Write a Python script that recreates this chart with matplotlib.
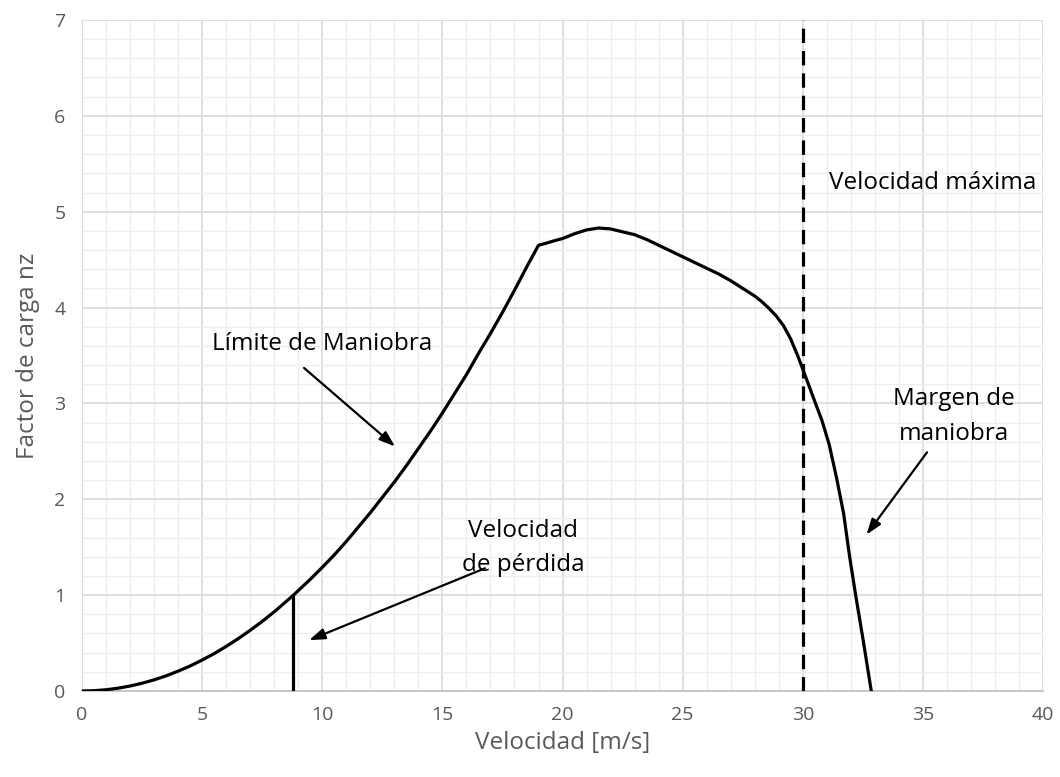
import matplotlib
matplotlib.use("Agg")
import matplotlib.pyplot as plt
from matplotlib.ticker import MultipleLocator

plt.rcParams['font.family'] = ['Open Sans', 'DejaVu Sans']

# Envelope curve (velocity m/s, load factor nz)
vel = [0, 0.5, 1, 1.5, 2, 2.5, 3, 3.5, 4, 4.5, 5, 5.5, 6, 6.5, 7, 7.5, 8, 8.8,
       9.5, 10, 10.5, 11, 11.5, 12, 12.5, 13, 13.5, 14, 14.5, 15, 15.5, 16, 16.5,
       17, 17.5, 18, 18.5, 19,
       19.3, 19.7, 20, 20.5, 21, 21.5, 22, 22.5, 23, 23.5, 24, 24.5, 25, 25.5, 26,
       26.5, 27, 27.5, 28, 28.3, 28.6, 28.9, 29.2, 29.5, 29.8, 30.1, 30.5, 30.8,
       31.1, 31.4, 31.7, 31.95, 32.2, 32.5, 32.85]
nz = [0, 0.003, 0.013, 0.029, 0.052, 0.081, 0.116, 0.158, 0.207, 0.261, 0.323,
      0.39, 0.465, 0.546, 0.633, 0.726, 0.826, 1.0,
      1.165, 1.29, 1.42, 1.56, 1.71, 1.86, 2.02, 2.18, 2.35, 2.53, 2.71, 2.9,
      3.10, 3.30, 3.52, 3.73, 3.95, 4.18, 4.42, 4.65,
      4.67, 4.70, 4.72, 4.77, 4.81, 4.83, 4.82, 4.79, 4.76, 4.71, 4.65, 4.59,
      4.53, 4.47, 4.41, 4.35, 4.28, 4.20, 4.12, 4.06, 3.99, 3.91, 3.81, 3.67,
      3.49, 3.29, 3.02, 2.82, 2.57, 2.23, 1.85, 1.40, 1.00, 0.55, 0]

stall_v = [8.8, 8.8]
stall_n = [0, 1.0]
vmax_v = [30, 30]
vmax_n = [0, 7]

fig = plt.figure(figsize=(10.6, 7.77), dpi=100)
ax = fig.add_axes([0.0774, 0.1107, 0.9066, 0.8636])

ax.plot(vel, nz, color='black', lw=2.3, solid_joinstyle='round', zorder=3)
ax.plot(stall_v, stall_n, color='black', lw=2.3, zorder=3)
ax.plot(vmax_v, vmax_n, color='black', lw=2.3, linestyle=(0, (4.5, 2.5)), zorder=3)

ax.set_xlim(0, 40)
ax.set_ylim(0, 7)
ax.xaxis.set_major_locator(MultipleLocator(5))
ax.xaxis.set_minor_locator(MultipleLocator(1))
ax.yaxis.set_major_locator(MultipleLocator(1))
ax.yaxis.set_minor_locator(MultipleLocator(0.2))
ax.grid(which='major', color='#d9d9d9', lw=1.2, zorder=0)
ax.grid(which='minor', color='#efefef', lw=1.0, zorder=0)
ax.set_axisbelow(True)
for s in ['top', 'right']:
    ax.spines[s].set_visible(False)
ax.spines['left'].set_color('#d9d9d9')
ax.spines['bottom'].set_color('#bfbfbf')
ax.spines['bottom'].set_linewidth(1.2)
ax.tick_params(axis='x', which='both', length=0, labelsize=14, labelcolor='#595959', pad=11)
ax.tick_params(axis='y', which='both', length=0, labelsize=14, labelcolor='#595959', pad=12)

ax.set_xlabel('Velocidad [m/s]', fontsize=17.5, color='#595959', labelpad=5)
ax.set_ylabel('Factor de carga nz', fontsize=17.5, color='#595959', labelpad=10)

txt = dict(fontsize=17.5, color='black')
arrow = dict(arrowstyle='-|>,head_length=0.95,head_width=0.33', color='black', lw=1.6,
             shrinkA=0, shrinkB=0)

ax.text(10.0, 3.62, 'Límite de Maniobra', ha='center', va='center', **txt)
ax.annotate('', xy=(13.03, 2.55), xytext=(9.24, 3.37), arrowprops=arrow)

ax.text(18.35, 1.49, 'Velocidad\nde pérdida', ha='center', va='center', linespacing=1.55, **txt)
ax.annotate('', xy=(9.45, 0.53), xytext=(16.77, 1.28), arrowprops=arrow)

ax.text(31.1, 5.3, 'Velocidad máxima', ha='left', va='center', **txt)

ax.text(36.3, 2.86, 'Margen de\nmaniobra', ha='center', va='center', linespacing=1.6, **txt)
ax.annotate('', xy=(32.65, 1.63), xytext=(35.17, 2.49), arrowprops=arrow)

fig.savefig('out.png', dpi=100)
